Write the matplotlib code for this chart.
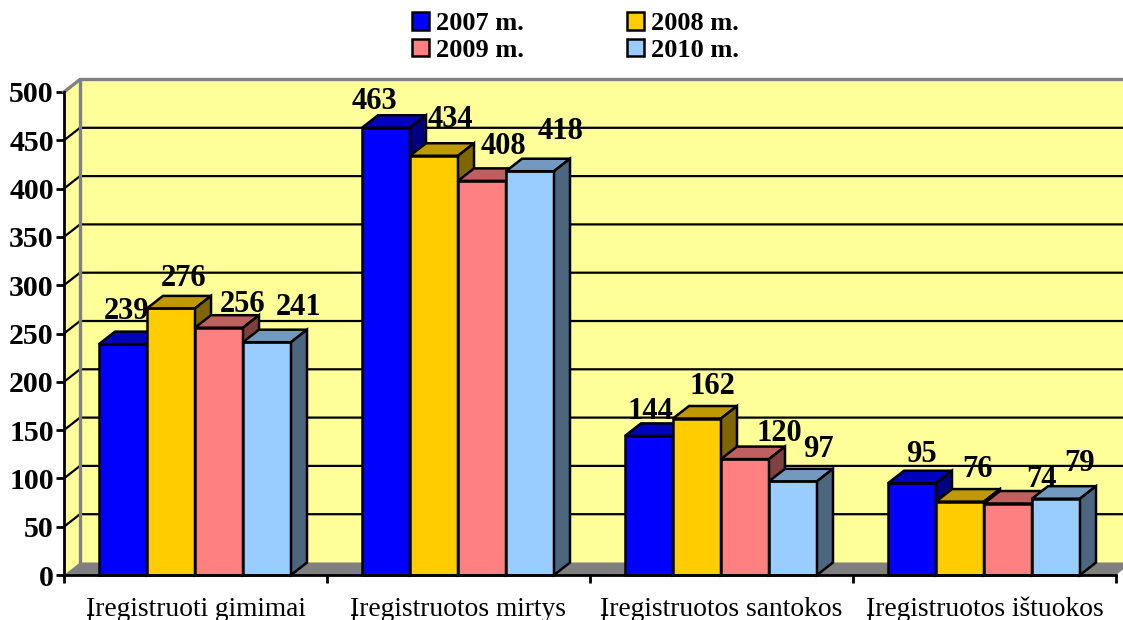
import matplotlib
matplotlib.use('Agg')
import matplotlib.pyplot as plt
from matplotlib.patches import Polygon, Patch

plt.rcParams['font.family'] = ['Liberation Serif', 'DejaVu Serif']

# ── Data ─────────────────────────────────────────────────────
categories = ['Įregistruoti gimimai', 'Įregistruotos mirtys',
              'Įregistruotos santokos', 'Įregistruotos ištuokos']
years = ['2007 m.', '2008 m.', '2009 m.', '2010 m.']
v2007 = [239, 463, 144, 95]
v2008 = [276, 434, 162, 76]
v2009 = [256, 408, 120, 74]
v2010 = [241, 418, 97, 79]
yticks = [0, 50, 100, 150, 200, 250, 300, 350, 400, 450, 500]

# ── Styles ───────────────────────────────────────────────────
front = ['#0000FF', '#FFCC00', '#FF8080', '#99CCFF']
top   = ['#0000BF', '#BF9900', '#BF6060', '#7399BF']
side  = ['#000080', '#806600', '#804040', '#4D6680']
WALL  = '#FFFF99'
FLOOR = '#808080'

# label shift from bar centre / value top, in pixels
label_px = [
    [(4, 33), (13, 30), (24, 23), (32, 35)],
    [(-12, 26), (16, 36), (21, 34), (31, 40)],
    [(1, 24), (15, 32), (34, 26), (25, 32)],
    [(9, 29), (17, 32), (34, 24), (24, 35)],
]

W, H = 1123, 620
fig = plt.figure(figsize=(W / 100, H / 100), dpi=100, facecolor='white')
ax = fig.add_axes([64 / W, (H - 575) / H, 1052 / W, 483 / H])
ax.set_xlim(0, 4)
ax.set_ylim(0, 500)
ax.patch.set_visible(False)

# depth of the fake 3D box, in data units
dx = 16 / 263
dy = 12.5 / 483 * 500
bar_w = 48 / 263
start = 35 / 263
xmax = len(categories)

# walls and floor
ax.add_patch(Polygon([(dx, dy), (xmax + dx, dy), (xmax + dx, 500 + dy), (dx, 500 + dy)],
                     fc=WALL, ec='none', clip_on=False, zorder=1))
ax.add_patch(Polygon([(0, 0), (dx, dy), (dx, 500 + dy), (0, 500)],
                     fc=WALL, ec='none', clip_on=False, zorder=1))
ax.add_patch(Polygon([(0, 0), (xmax, 0), (xmax + dx, dy), (dx, dy)],
                     fc=FLOOR, ec='none', clip_on=False, zorder=1))

# grid lines on back and side wall
for t in yticks[1:-1]:
    ax.plot([0, dx, xmax + dx], [t, t + dy, t + dy], color='black', lw=1.6,
            clip_on=False, zorder=2, solid_joinstyle='miter')

# grey box edges
ax.plot([0, dx, xmax + dx], [500, 500 + dy, 500 + dy], color=FLOOR, lw=2.4,
        clip_on=False, zorder=2)
ax.plot([dx, dx], [dy, 500 + dy], color=FLOOR, lw=2.4, clip_on=False, zorder=2)

# bars
series = [v2007, v2008, v2009, v2010]
for g in range(len(categories)):
    for s, vals in enumerate(series):
        v = vals[g]
        x0 = g + start + s * bar_w
        x1 = x0 + bar_w
        z = 3 + g + s * 0.1
        ax.add_patch(Polygon([(x0, 0), (x1, 0), (x1, v), (x0, v)], fc=front[s],
                             ec='black', lw=1.8, zorder=z, clip_on=False, joinstyle='miter'))
        ax.add_patch(Polygon([(x0, v), (x1, v), (x1 + dx, v + dy), (x0 + dx, v + dy)], fc=top[s],
                             ec='black', lw=1.8, zorder=z, clip_on=False, joinstyle='miter'))
        ax.add_patch(Polygon([(x1, 0), (x1 + dx, dy), (x1 + dx, v + dy), (x1, v)], fc=side[s],
                             ec='black', lw=1.8, zorder=z, clip_on=False, joinstyle='miter'))
        ox, oy = label_px[g][s]
        ax.annotate(str(v), xy=(x0 + bar_w / 2, v), xytext=(ox * 0.72, oy * 0.72),
                    textcoords='offset points', ha='center', va='center',
                    fontsize=22, fontweight='bold', zorder=20, annotation_clip=False)

# axes
for name in ['top', 'right']:
    ax.spines[name].set_visible(False)
for name in ['left', 'bottom']:
    ax.spines[name].set_linewidth(2)
    ax.spines[name].set_zorder(15)
ax.set_yticks(yticks)
ax.tick_params(axis='y', length=6, width=2, pad=1.3, labelsize=21.5)
for lab in ax.get_yticklabels():
    lab.set_fontweight('bold')
ax.set_xticks(range(len(categories) + 1))
ax.set_xticklabels([])
ax.set_xticks([i + 0.5 for i in range(len(categories))], minor=True)
ax.set_xticklabels(categories, minor=True, fontsize=19.8)
ax.tick_params(axis='x', which='major', length=6, width=2)
ax.tick_params(axis='x', which='minor', length=0, pad=15.5)

# legend, columns fill first so 2009 sits under 2007
order = [0, 2, 1, 3]
handles = [Patch(fc=front[i], ec='black', lw=1.8, label=years[i]) for i in order]
fig.legend(handles=handles, ncol=2, frameon=False, loc='center',
           bbox_to_anchor=(575.5 / W, 1 - 37 / H),
           prop={'family': 'Liberation Serif', 'weight': 'bold', 'size': 19},
           handlelength=0.65, handleheight=0.65, handletextpad=0.28,
           columnspacing=3.9, labelspacing=0.14, borderpad=0)

fig.savefig('out.png', dpi=100)
